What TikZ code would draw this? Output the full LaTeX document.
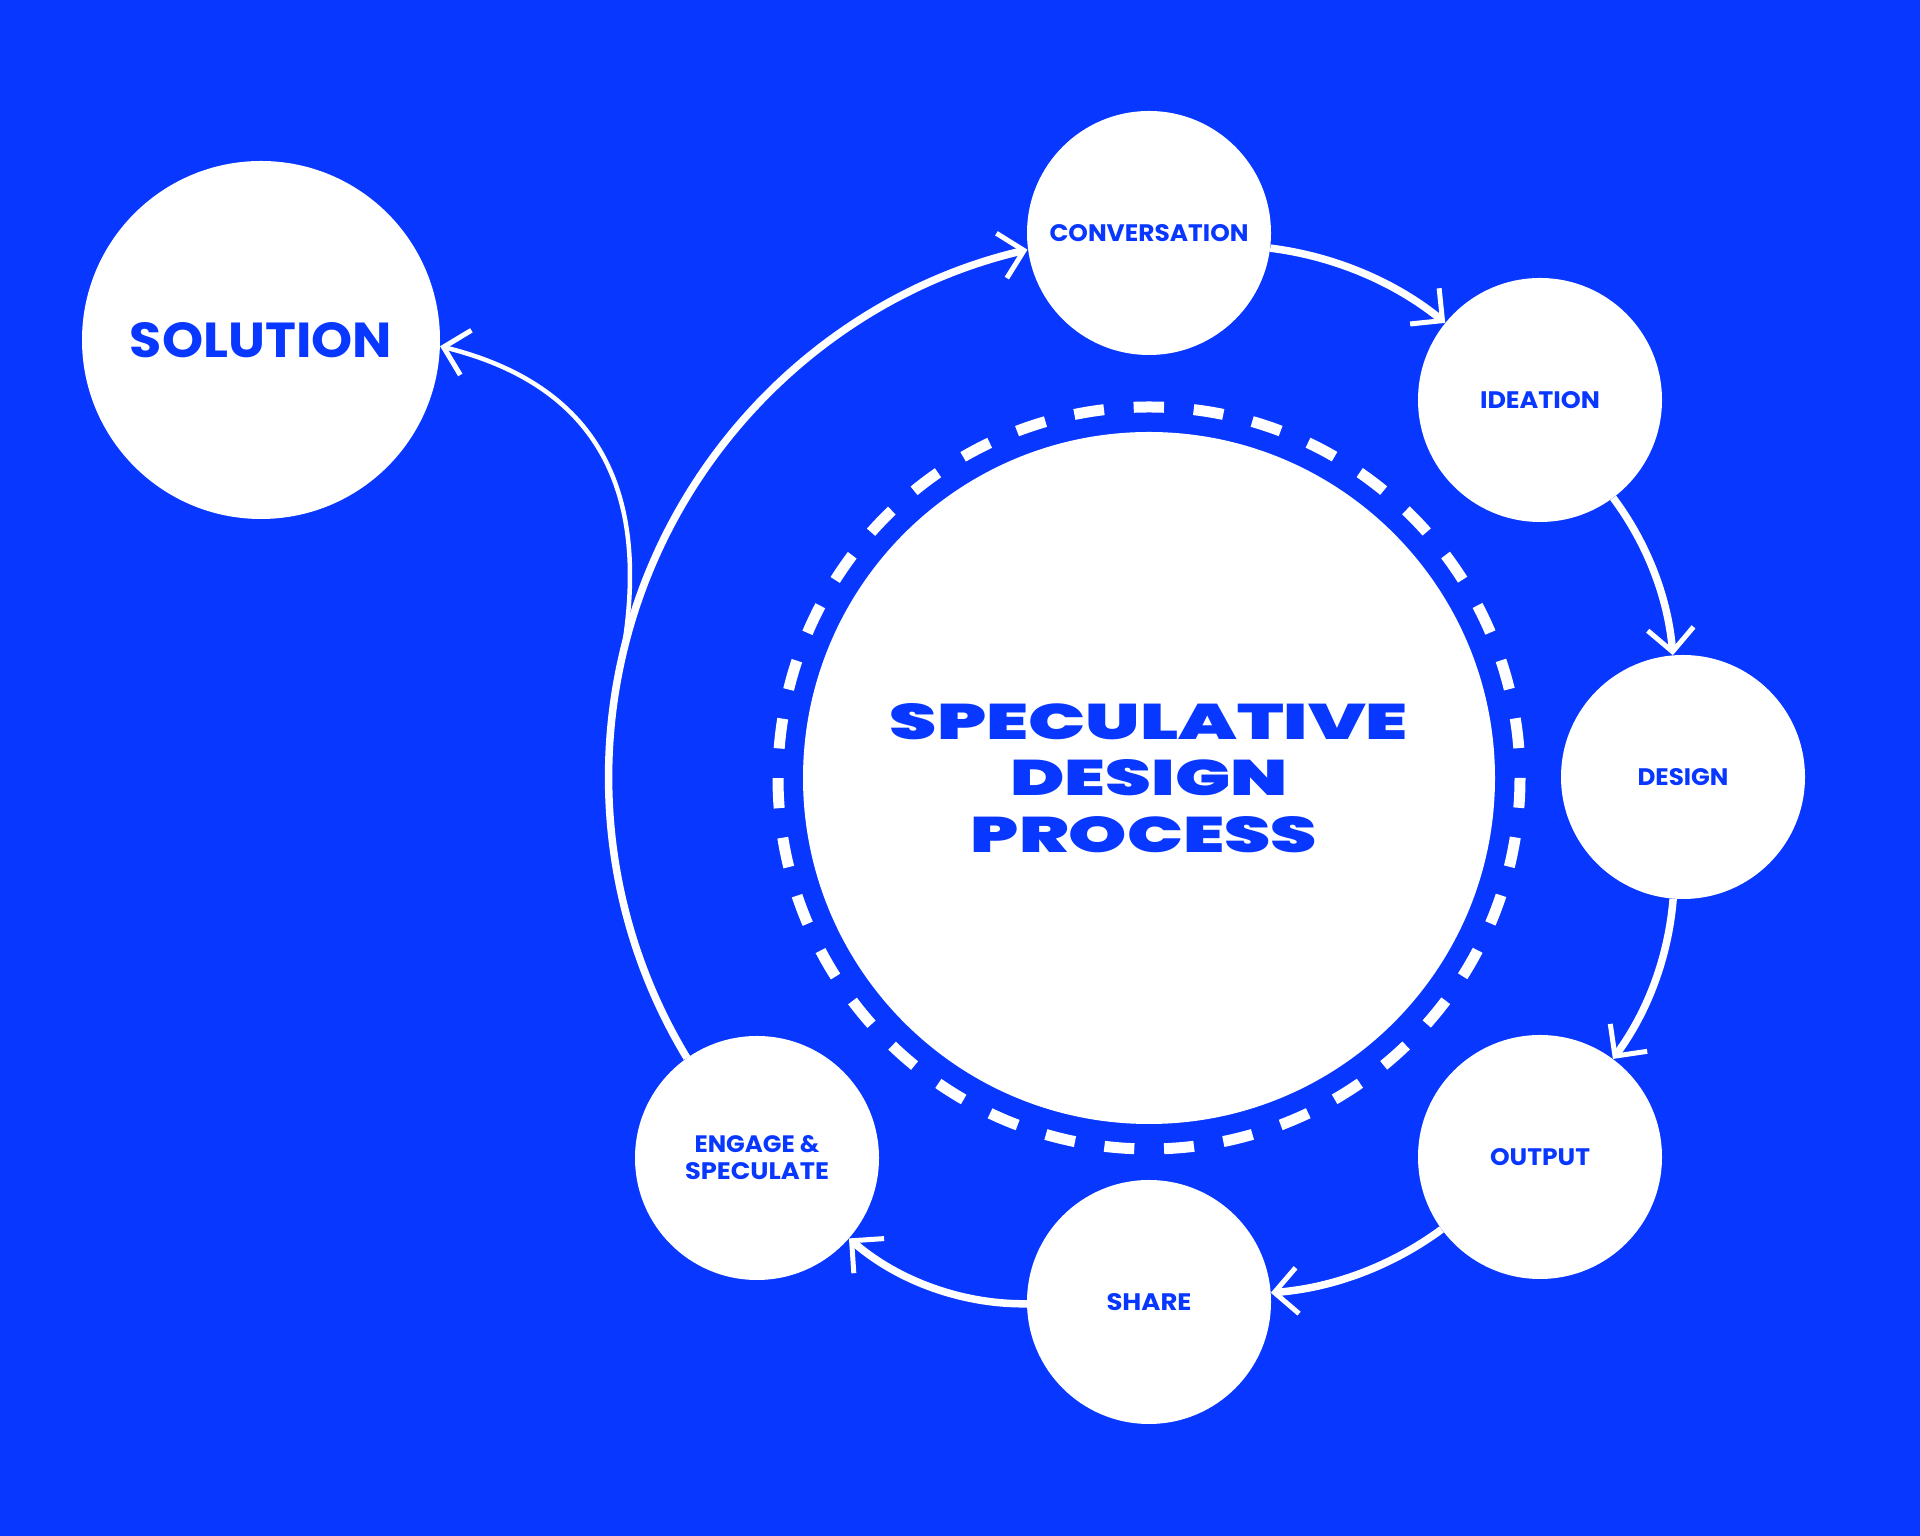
\documentclass[tikz,border=0pt]{standalone}
\usepackage{fontspec}
\setmainfont{Poppins}
\IfFontExistsTF{Poppins Black}
  {\newfontfamily\heavy{Poppins Black}}
  {\newfontfamily\heavy{Poppins}[UprightFeatures={FakeBold=2}, BoldFeatures={FakeBold=2}]}
\usepackage{graphicx}
\usetikzlibrary{arrows.meta}
\definecolor{bg}{RGB}{8,55,255}
\tikzset{
  sat/.style={circle, fill=white, minimum size=244pt, inner sep=0pt, text=bg, font=\bfseries},
  conn/.style={white, line width=7.5pt, -{Straight Barb[length=23pt,width=46pt,line width=5pt]}},
  ring/.style={white, line width=11pt, dash pattern=on 30pt off 29.77pt, dash phase=15pt},
}
\newcommand{\lbl}[2]{\resizebox{#1pt}{17pt}{#2}}
\begin{document}
\begin{tikzpicture}[x=1pt,y=1pt]
\useasboundingbox (0,0) rectangle (1920,1536);
\fill[bg] (0,0) rectangle (1920,1536);
% core
\node[circle, fill=white, minimum size=692pt, inner sep=0pt, text=bg,
      font=\heavy\fontsize{40pt}{56.5pt}\selectfont, align=center] (core) at (1149,758)
  {\resizebox{518pt}{36pt}{SPECULATIVE}\\\resizebox{277pt}{36pt}{DESIGN}\\\hspace*{-10pt}\resizebox{346pt}{36pt}{PROCESS}};
\draw[ring] (core.center) ++(90:371) arc[start angle=90, end angle=-270, radius=371];
% satellites
\node[sat] (conv) at (1149,1303) {\lbl{199}{CONVERSATION}};
\node[sat] (idea) at (1540,1136) {\lbl{120}{IDEATION}};
\node[sat] (design) at (1683,759) {\lbl{91}{DESIGN}};
\node[sat] (output) at (1540,379) {\lbl{100}{OUTPUT}};
\node[sat] (share) at (1149,234) {\lbl{85}{SHARE}};
\node[sat, align=center, font=\bfseries\fontsize{20pt}{27pt}\selectfont] (engage) at (757,378)
  {\lbl{125}{ENGAGE \&}\\\lbl{144}{SPECULATE}};
\node[circle, fill=white, minimum size=358pt, inner sep=0pt, text=bg, font=\bfseries] (solution) at (261,1196)
  {\resizebox{262pt}{35pt}{SOLUTION}};
% connectors
\draw[conn] (conv) to[bend left=16, looseness=0.87] (idea);
\draw[conn] (idea) to[bend left=16, looseness=0.87] (design);
\draw[conn] (design) to[bend left=16, looseness=0.87] (output);
\draw[conn] (output) to[bend left=16, looseness=0.87] (share);
\draw[conn] (share) to[bend left=21, looseness=0.87] (engage);
\draw[conn] (engage.125.7) arc[start angle=211.2, end angle=103.1, radius=541.7];
\draw[conn, line width=4.5pt] (engage.125.7) arc[start angle=211.2, end angle=167, radius=541.7]
  .. controls +(80:170) and +(-14:160) .. (solution.-2);
\end{tikzpicture}
\end{document}
